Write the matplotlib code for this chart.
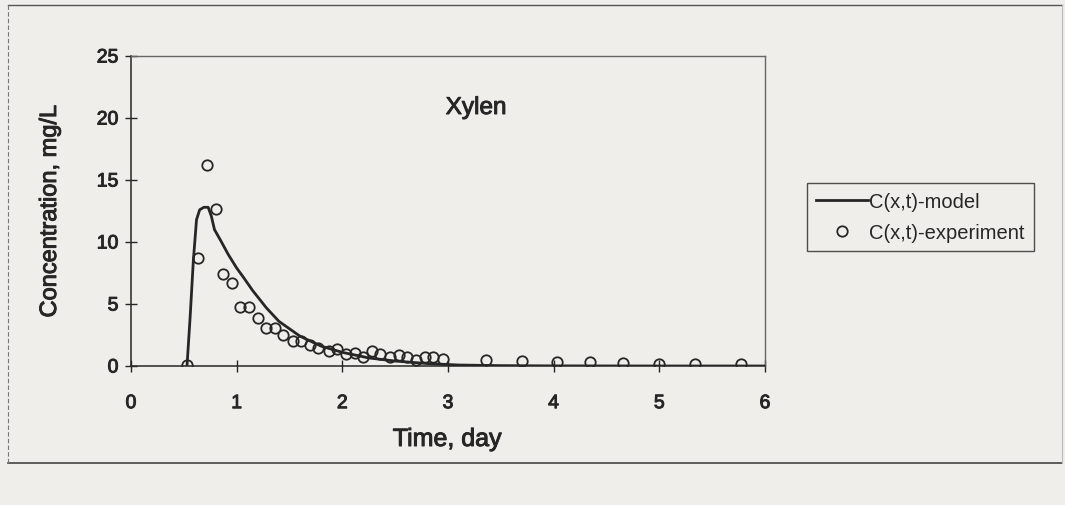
import matplotlib
matplotlib.use("Agg")
import matplotlib.pyplot as plt
import matplotlib.patheffects as pe
from matplotlib.lines import Line2D

# ---- data ----
model_t = [0.53, 0.56, 0.59, 0.62, 0.65, 0.69, 0.73, 0.76, 0.79, 0.85, 0.92, 1.00,
           1.06, 1.15, 1.28, 1.40, 1.60, 1.80, 2.00, 2.25, 2.50, 2.80, 3.10, 3.50,
           4.00, 5.00, 6.00]
model_c = [0.0, 4.0, 8.5, 11.8, 12.6, 12.8, 12.8, 12.1, 11.0, 10.1, 9.0, 7.9,
           7.2, 6.1, 4.7, 3.6, 2.4, 1.6, 1.1, 0.65, 0.4, 0.2, 0.08, 0.03,
           0.01, 0.0, 0.0]

exp_t = [0.53, 0.63, 0.72, 0.80, 0.87, 0.96, 1.03, 1.12, 1.20, 1.28, 1.36, 1.44,
         1.53, 1.61, 1.69, 1.77, 1.87, 1.95, 2.03, 2.12, 2.20, 2.28, 2.36, 2.45,
         2.54, 2.61, 2.70, 2.78, 2.86, 2.95, 3.36, 3.70, 4.03, 4.34, 4.66, 5.00,
         5.34, 5.77]
exp_c = [0.1, 8.7, 16.2, 12.7, 7.4, 6.7, 4.75, 4.75, 3.9, 3.1, 3.1, 2.5,
         2.0, 2.0, 1.7, 1.45, 1.2, 1.4, 0.95, 1.05, 0.7, 1.2, 0.95, 0.7,
         0.9, 0.7, 0.45, 0.7, 0.7, 0.55, 0.45, 0.4, 0.35, 0.3, 0.25, 0.2,
         0.2, 0.15]

x_ticks = [0, 1, 2, 3, 4, 5, 6]
y_ticks = [0, 5, 10, 15, 20, 25]

title = "Xylen"
xlabel = "Time, day"
ylabel = "Concentration, mg/L"
legend_labels = ["C(x,t)-model", "C(x,t)-experiment"]

bg = "#efeeea"
ink = "#262626"
heavy = [pe.withStroke(linewidth=0.7, foreground=ink)]

plt.rcParams['font.family'] = ['Liberation Sans', 'DejaVu Sans']

fig = plt.figure(figsize=(10.65, 5.06), dpi=100, facecolor=bg)

# outer frame of the scanned chart
fig.add_artist(Line2D([8/1065, 1062/1065], [1-6/506, 1-6/506], transform=fig.transFigure,
                      color="#555555", lw=1.0))
fig.add_artist(Line2D([8/1065, 1062/1065], [1-464/506, 1-464/506], transform=fig.transFigure,
                      color="#444444", lw=1.2))
fig.add_artist(Line2D([8/1065, 8/1065], [1-6/506, 1-464/506], transform=fig.transFigure,
                      color="#777777", lw=0.8, ls=(0, (4, 2))))
fig.add_artist(Line2D([1062/1065, 1062/1065], [1-6/506, 1-464/506], transform=fig.transFigure,
                      color="#bbbbbb", lw=0.8))

ax = fig.add_axes([131/1065, 1-367/506, (765-131)/1065, (367-57)/506])
ax.set_facecolor(bg)

ax.plot(model_t, model_c, color=ink, lw=2.0, solid_joinstyle='round', zorder=3,
        label=legend_labels[0])
ax.plot(exp_t, exp_c, ls='none', marker='o', ms=7.5, mfc='none', mec=ink, mew=1.3,
        zorder=4, label=legend_labels[1])

ax.set_xlim(0, 6)
ax.set_ylim(0, 25)
ax.set_xticks(x_ticks)
ax.set_yticks(y_ticks)
ax.tick_params(direction='inout', length=8, width=1.0, color=ink, labelsize=14,
               labelcolor=ink)
ax.tick_params(axis='x', pad=17)
ax.tick_params(axis='y', pad=5)
for lab in ax.get_xticklabels() + ax.get_yticklabels():
    lab.set_path_effects(heavy)
for s in ['left', 'bottom']:
    ax.spines[s].set_color(ink)
    ax.spines[s].set_linewidth(1.1)
for s in ['top', 'right']:
    ax.spines[s].set_color("#666666")
    ax.spines[s].set_linewidth(1.0)

ax.text((476-131)/634, (367-109)/310, title, transform=ax.transAxes, ha='center',
        va='center', fontsize=17.5, color=ink, path_effects=heavy)
ax.set_xlabel(xlabel, fontsize=18, color=ink, path_effects=heavy)
ax.set_ylabel(ylabel, fontsize=17, color=ink, path_effects=heavy)
ax.xaxis.set_label_coords((447-131)/634, (367-428)/310)
ax.yaxis.set_label_coords((61-131)/634, 0.5)

leg = ax.legend(loc='upper left', bbox_to_anchor=(807/1065, 1-184/506),
                bbox_transform=fig.transFigure, frameon=True, fancybox=False,
                fontsize=14.5, handlelength=2.6, handletextpad=0.05, borderpad=0.45,
                labelspacing=0.6, borderaxespad=0)
leg.get_frame().set_edgecolor(ink)
leg.get_frame().set_linewidth(1.0)
leg.get_frame().set_facecolor(bg)
for t in leg.get_texts():
    t.set_color(ink)

fig.savefig("out.png", dpi=100, facecolor=bg)
